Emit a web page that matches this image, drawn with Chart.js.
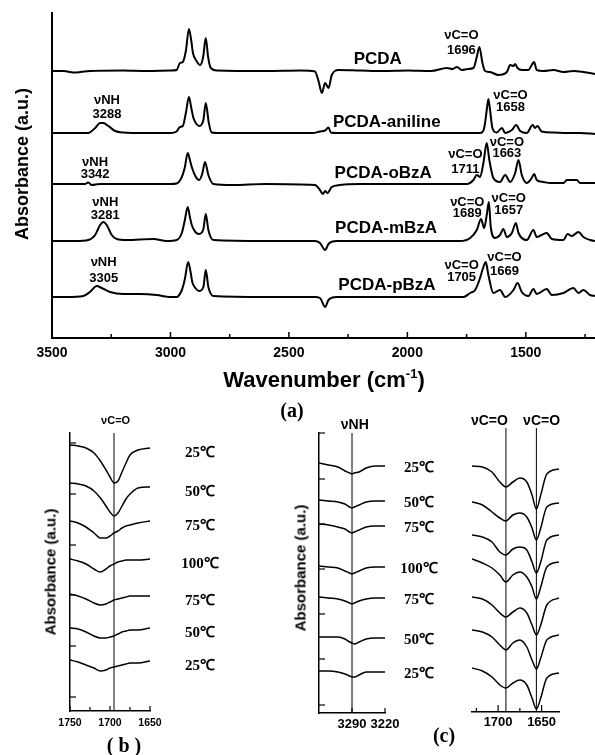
<!DOCTYPE html>
<html><head><meta charset="utf-8">
<script src="https://cdn.jsdelivr.net/npm/chart.js@4/dist/chart.umd.min.js"></script>
<style>
html,body{margin:0;padding:0;background:#fff;}
#fig{position:relative;width:595px;height:755px;overflow:hidden;background:#fff;font-family:'Liberation Sans',Arial,sans-serif;color:#000;}
canvas{position:absolute;}
.t{position:absolute;white-space:nowrap;transform:translate(-50%,-50%);font-weight:bold;line-height:1;}
.r{transform:translate(-50%,-50%) rotate(-90deg);}
.serif{font-family:'Liberation Serif','Times New Roman',serif;}
</style></head><body>
<div id="fig">
<canvas id="cA" width="595" height="395" style="left:0px;top:0px;width:595px;height:395px"></canvas>
<canvas id="cB" width="230" height="320" style="left:0px;top:415px;width:230px;height:320px"></canvas>
<canvas id="cC1" width="145" height="320" style="left:300px;top:415px;width:145px;height:320px"></canvas>
<canvas id="cC2" width="150" height="320" style="left:445px;top:415px;width:150px;height:320px"></canvas>
<div class="t r" style="left:22px;top:164px;font-size:18px">Absorbance (a.u.)</div>
<div class="t" style="left:324px;top:380px;font-size:22px">Wavenumber (cm<span style="font-size:13px;position:relative;top:-9px">-1</span>)</div>
<div class="t serif" style="left:292px;top:410px;font-size:20px">(a)</div>
<div class="t r" style="left:50px;top:572px;font-size:15px">Absorbance (a.u.)</div>
<div class="t serif" style="left:124px;top:745px;font-size:20px">( b )</div>
<div class="t r" style="left:300px;top:568px;font-size:15px">Absorbance (a.u.)</div>
<div class="t serif" style="left:444px;top:735px;font-size:20px">(c)</div>
</div>
<script>
// ---------- Panel (a): FTIR spectra (wavenumber, absorbance above each baseline) ----------
const namesA = ['PCDA', 'PCDA-aniline', 'PCDA-oBzA', 'PCDA-mBzA', 'PCDA-pBzA'];
const offsetsA = [267, 205, 154, 97, 41];
const xTicksA = [3500, 3250, 3000, 2750, 2500, 2250, 2000, 1750, 1500, 1250];
const xLabelsA = [3500, 3000, 2500, 2000, 1500];

const wnPCDA = [3500,3450,3410,3380,3340,3200,3100,3000,2974,2960,2948,2935,2922,2912,2905,2890,2875,2862,2851,2841,2830,2804,2600,2450,2390,2375,2361,2347,2333,2319,2291,2200,2100,2000,1900,1833,1810,1791,1770,1745,1721,1707,1696,1683,1672,1651,1616,1580,1566,1552,1545,1535,1517,1489,1475,1465,1454,1426,1383,1341,1299,1257,1208];
const absPCDA = [0,0,-1.5,-1,0,0.5,0,0.5,1,8,9,20,42,30,18,10,6,14,33,14,3,0.5,0,0.5,-0.5,-10,-22,-12,-17,-4,1,0.5,0,0.5,0,3,2,4,1,2,3,14,24,8,0,-1,-4,-1,6,5,7,3,1,1,6,9,1,0,1,-1,0,-1,-3];

const wnAniline = [3500,3400,3347,3318,3297,3283,3262,3234,3199,3115,3000,2974,2960,2948,2935,2922,2912,2903,2890,2878,2861,2851,2838,2826,2800,2600,2400,2369,2347,2333,2323,2300,2000,1800,1693,1680,1672,1665,1658,1651,1641,1623,1601,1587,1559,1541,1524,1496,1471,1461,1451,1433,1384,1327,1271,1208];
const absAniline = [0,0,0,5,10,10,7,2,0.5,0,0,1.5,6,7,20,36,25,15,9,7,13,30,10,0.5,0,0,0,1.5,2.5,5.5,0.5,0,0,0,0,2,10,23,34,23,5,0.5,5,0,3,8,2,0,8,5,7,1.5,0.5,0,0,-1];

const wnOBzA = [3500,3400,3361,3347,3332,3300,3000,2974,2952,2940,2927,2918,2910,2895,2879,2866,2854,2840,2819,2736,2600,2390,2369,2357,2347,2338,2319,2284,2200,2000,1800,1749,1721,1707,1693,1679,1665,1654,1637,1609,1587,1566,1545,1531,1517,1496,1475,1465,1454,1426,1397,1341,1327,1285,1271,1208];
const absOBzA = [0,0,0,1.5,-1,0,0,0.5,7,16,31,24,17,8,4,10,22,9,0,-1,0,-1,-6,-10,-7,-9,-3,-1,0,0,0,0,4,9,7,21,41,24,6,2,9,2,11,24,9,1,6,10,4,2,1,1,4,4,1,1];

const wnMBzA = [3500,3400,3347,3318,3297,3283,3269,3248,3227,3185,3072,3016,2974,2952,2940,2927,2918,2910,2895,2879,2861,2851,2840,2819,2600,2453,2390,2369,2347,2333,2298,2000,1800,1777,1735,1707,1689,1676,1665,1656,1648,1630,1609,1595,1580,1559,1542,1531,1496,1468,1454,1433,1412,1390,1341,1324,1306,1278,1257,1229,1208];
const absMBzA = [0,0,1,6,16,19,16,6,2,1,2,0,1,8,20,34,24,16,9,7,12,27,11,1,0,0,0,-2,-9,-3,0,0,0,0,3,11,22,13,26,39,14,3,6,12,4,8,18,8,1,11,4,6,8,2,1,7,5,9,4,1,0];

const wnPBzA = [3500,3438,3368,3340,3311,3290,3255,3199,3128,3058,3002,2974,2952,2940,2925,2915,2908,2895,2879,2861,2851,2840,2819,2600,2453,2390,2369,2347,2333,2298,2000,1800,1763,1735,1714,1696,1679,1669,1658,1637,1609,1587,1552,1535,1517,1489,1468,1454,1412,1390,1341,1299,1278,1257,1229,1208];
const absPBzA = [0,0,1,5,11,9,5,3,3,2,0,0,7,17,35,25,15,9,6,10,27,10,1,0,0,0,-1,-10,-3,0,0,0,0,4,7,17,30,35,22,4,7,0,7,14,5,1,8,3,8,2,4,9,4,7,2,1];

// ---------- Panel (b): variable-temperature C=O region ----------
const tempsB = ['25℃','50℃','75℃','100℃','75℃','50℃','25℃'];
const wnB = [1750,1740,1730,1720,1712,1705,1700,1695,1690,1685,1680,1675,1665,1650];
const b25a  = [266,265,263,258,250,241,234,228,230,239,248,256,261,263];
const b50a  = [228,227,225,220,213,205,199,195,198,205,212,217,223,224];
const b75a  = [190,188,184,178,173,173,175,178,180,183,185,186,188,190];
const b100  = [152,150,147,142,139,142,145,147,149,150,151,151,151,152];
const b75b  = [117,115,112,108,106,107,109,111,112,113,114,115,115,115];
const b50b  = [83,82,79,75,73,73,74,75,77,79,80,81,81,83];
const b25b  = [51,49,46,43,40,41,43,44,45,46,47,48,48,50];
const markB = 1695;
const xTicksB = [1750,1725,1700,1675,1650];
const xLabelsB = [1750,1700,1650];
const yTicksB = [14,65,116,166,217,268];

// ---------- Panel (c): NH region and C=O region ----------
const tempsC = ['25℃','50℃','75℃','100℃','75℃','50℃','25℃'];
const wnC1 = [3360,3340,3320,3305,3295,3290,3285,3275,3260,3240,3220];
const n25a = [250,248,246,242,240,239,240,241,245,247,247];
const n50a = [213,212,211,209,206,205,206,208,211,212,212];
const n75a = [189,188,186,184,181,180,181,183,186,187,187];
const n100 = [147,146,145,142,140,139,140,142,145,146,146];
const n75b = [116,115,114,112,110,109,110,112,114,115,115];
const n50b = [76,76,76,74,71,70,69,71,74,75,75];
const n25b = [42,42,41,39,37,36,36,38,41,41,41];
const markC1 = 3290;
const xTicksC1 = [3290,3220];
const yTicksC1 = [8,54,99,144,189,234,280];

const wnC2 = [1730,1718,1707,1698,1691,1683,1675,1667,1661,1656,1651,1644,1630];
const o25a = [246,245,240,230,225,230,234,230,217,203,217,238,243];
const o50a = [210,207,200,194,191,197,199,195,184,172,184,205,209];
const o75a = [177,175,170,160,157,163,165,162,150,139,150,172,177];
const o100 = [153,149,144,137,130,137,140,135,125,113,125,145,150];
const o75b = [115,113,107,99,95,100,104,99,87,77,87,107,114];
const o50b = [82,80,75,67,62,69,72,65,52,43,54,72,77];
const o25b = [44,41,35,27,24,29,32,27,14,3,14,34,39];
const marksC2 = [1691,1656];
const xTicksC2 = [1725,1700,1675,1650];
const xLabelsC2 = [1700,1650];

// ---------- helpers ----------
Chart.defaults.font.family = "'Liberation Sans', Arial, Helvetica, sans-serif";
Chart.defaults.color = '#000';
const SANS = "'Liberation Sans', Arial, sans-serif";
const SERIF = "'Liberation Serif', 'Times New Roman', serif";

function lineDs(xs, ys, off, width) {
  return { data: xs.map((x, i) => ({ x: x, y: off + ys[i] })), borderColor: '#000', borderWidth: width,
    pointRadius: 0, fill: false, cubicInterpolationMode: 'monotone' };
}
function vline(x, lo, hi) {
  return { data: [{ x: x, y: lo }, { x: x, y: hi }], borderColor: '#000', borderWidth: 1, pointRadius: 0, fill: false };
}
function tickPlugin(specs) {
  return { id: 'innerTicks', afterDraw(chart) {
    const ctx = chart.ctx; ctx.save(); ctx.strokeStyle = '#000';
    specs.forEach(sp => {
      const s = chart.scales[sp.axis]; ctx.lineWidth = sp.width;
      s.ticks.forEach(t => {
        const p = s.getPixelForValue(t.value);
        const len = (t.label !== '' && t.label !== undefined) ? sp.major : sp.minor;
        ctx.beginPath();
        if (s.isHorizontal()) { ctx.moveTo(p, s.top); ctx.lineTo(p, s.top - len); }
        else { ctx.moveTo(s.right, p); ctx.lineTo(s.right + len, p); }
        ctx.stroke();
      });
    });
    ctx.restore();
  } };
}
function textPlugin(items) {
  return { id: 'texts', afterDraw(chart) {
    const ctx = chart.ctx, xs = chart.scales.x, ys = chart.scales.y;
    ctx.save(); ctx.fillStyle = '#000'; ctx.textAlign = 'center'; ctx.textBaseline = 'middle';
    items.forEach(it => {
      ctx.font = it.font;
      const x = xs.getPixelForValue(it.x);
      const y = ys.getPixelForValue(it.y) + (it.dy || 0);
      it.lines.forEach((l, i) => ctx.fillText(l, x, y + i * (it.gap || 13)));
    });
    ctx.restore();
  } };
}
function baseOpts(o) {
  const xs = {
    type: 'linear', reverse: true, min: o.xmin, max: o.xmax, bounds: 'data',
    grid: { display: false, drawTicks: false },
    border: { display: true, color: '#000', width: o.bw },
    afterBuildTicks: s => { s.ticks = o.xTicks.map(v => ({ value: v })); },
    afterFit: s => { s.height = o.xh; },
    ticks: { autoSkip: false, maxRotation: 0, minRotation: 0, padding: o.tpad,
      font: { size: o.tsize, weight: 'bold' },
      callback: v => o.xLabels.includes(v) ? String(v) : '' }
  };
  const ys = o.yhidden ? { type: 'linear', display: false, min: o.ymin, max: o.ymax, bounds: 'data' } : {
    type: 'linear', min: o.ymin, max: o.ymax, bounds: 'data',
    grid: { display: false, drawTicks: false },
    border: { display: true, color: '#000', width: o.bw },
    ticks: { display: false },
    afterBuildTicks: s => { s.ticks = o.yTicks.map(v => ({ value: v })); },
    afterFit: s => { s.width = o.yw; }
  };
  return { responsive: false, animation: false, devicePixelRatio: 1, events: [],
    layout: { padding: o.pad },
    plugins: { legend: { display: false }, tooltip: { enabled: false } },
    scales: { x: xs, y: ys } };
}

// ---------- Chart (a) ----------
const seriesA = [[wnPCDA, absPCDA], [wnAniline, absAniline], [wnOBzA, absOBzA], [wnMBzA, absMBzA], [wnPBzA, absPBzA]];
const fA = 'bold 13px ' + SANS, fN = 'bold 17px ' + SANS;
const annA = [
  { lines: [namesA[0]], x: 2125, y: 279, font: fN },
  { lines: [namesA[1]], x: 2087, y: 216, font: fN },
  { lines: [namesA[2]], x: 2102, y: 165, font: fN },
  { lines: [namesA[3]], x: 2090, y: 110, font: fN },
  { lines: [namesA[4]], x: 2086, y: 53, font: fN },
  { lines: ['νC=O', '1696'], x: 1772, y: 303, font: fA, gap: 15 },
  { lines: ['νC=O', '1658'], x: 1565, y: 243, font: fA, gap: 12 },
  { lines: ['νC=O', '1711'], x: 1755, y: 184, font: fA, gap: 15 },
  { lines: ['νC=O', '1663'], x: 1580, y: 196, font: fA, gap: 11 },
  { lines: ['νC=O', '1689'], x: 1747, y: 136, font: fA, gap: 11 },
  { lines: ['νC=O', '1657'], x: 1572, y: 140, font: fA, gap: 12 },
  { lines: ['νC=O', '1705'], x: 1771, y: 73, font: fA, gap: 12 },
  { lines: ['νC=O', '1669'], x: 1590, y: 81, font: fA, gap: 14 },
  { lines: ['νNH', '3288'], x: 3268, y: 238, font: fA, gap: 14 },
  { lines: ['νNH', '3342'], x: 3318, y: 176, font: fA, gap: 12 },
  { lines: ['νNH', '3281'], x: 3275, y: 136, font: fA, gap: 13 },
  { lines: ['νNH', '3305'], x: 3282, y: 76, font: fA, gap: 16 }
];
new Chart(document.getElementById('cA'), {
  type: 'line',
  data: { datasets: seriesA.map((s, i) => lineDs(s[0], s[1], offsetsA[i], 2)) },
  options: baseOpts({ xmin: 1208, xmax: 3500, xTicks: xTicksA, xLabels: xLabelsA, xh: 57, tpad: 7, tsize: 14,
    ymin: 0, ymax: 325, yTicks: offsetsA, yw: 52, bw: 2, pad: { left: 0, top: 13, right: 0, bottom: 0 } }),
  plugins: [tickPlugin([{ axis: 'x', width: 1.5, major: 6, minor: 4 }, { axis: 'y', width: 1.5, major: 7, minor: 7 }]), textPlugin(annA)]
});

// ---------- Chart (b) ----------
const tracesB = [b25a, b50a, b75a, b100, b75b, b50b, b25b];
const annB = tracesB.map((t, i) => ({ lines: [tempsB[i]], x: 1587.5, y: t[t.length - 1], dy: 5, font: 'bold 15px ' + SERIF }));
annB.push({ lines: ['νC=O'], x: 1693, y: 278, dy: -12, font: 'bold 11px ' + SANS });
new Chart(document.getElementById('cB'), {
  type: 'line',
  data: { datasets: tracesB.map(t => lineDs(wnB, t, 0, 1.5)).concat([vline(markB, 0, 278)]) },
  options: baseOpts({ xmin: 1650, xmax: 1750, xTicks: xTicksB, xLabels: xLabelsB, xh: 24, tpad: 6, tsize: 10.5,
    ymin: 0, ymax: 278, yTicks: yTicksB, yw: 70, bw: 1.5, pad: { left: 0, top: 18, right: 80, bottom: 0 } }),
  plugins: [tickPlugin([{ axis: 'x', width: 1.2, major: 5, minor: 4 }, { axis: 'y', width: 1.2, major: 6, minor: 6 }]), textPlugin(annB)]
});

// ---------- Chart (c) left: NH ----------
const tracesC1 = [n25a, n50a, n75a, n100, n75b, n50b, n25b];
const annC1 = tracesC1.map((t, i) => ({ lines: [tempsC[i]], x: 3148, y: t[t.length - 1], dy: 2, font: 'bold 15px ' + SERIF }));
annC1.push({ lines: ['νNH'], x: 3284, y: 280, dy: -8, font: 'bold 14px ' + SANS });
new Chart(document.getElementById('cC1'), {
  type: 'line',
  data: { datasets: tracesC1.map(t => lineDs(wnC1, t, 0, 1.5)).concat([vline(markC1, 0, 280)]) },
  options: baseOpts({ xmin: 3220, xmax: 3360, xTicks: xTicksC1, xLabels: xTicksC1, xh: 22, tpad: 4, tsize: 13,
    ymin: 0, ymax: 280, yTicks: yTicksC1, yw: 19, bw: 1.5, pad: { left: 0, top: 18, right: 60, bottom: 0 } }),
  plugins: [tickPlugin([{ axis: 'x', width: 1.2, major: 5, minor: 4 }, { axis: 'y', width: 1.2, major: 6, minor: 6 }]), textPlugin(annC1)]
});

// ---------- Chart (c) right: C=O ----------
const tracesC2 = [o25a, o50a, o75a, o100, o75b, o50b, o25b];
const annC2 = [
  { lines: ['νC=O'], x: 1710, y: 284, dy: -7, font: 'bold 14px ' + SANS },
  { lines: ['νC=O'], x: 1650, y: 284, dy: -7, font: 'bold 14px ' + SANS }
];
new Chart(document.getElementById('cC2'), {
  type: 'line',
  data: { datasets: tracesC2.map(t => lineDs(wnC2, t, 0, 1.5)).concat(marksC2.map(m => vline(m, 0, 284))) },
  options: baseOpts({ xmin: 1630, xmax: 1730, xTicks: xTicksC2, xLabels: xLabelsC2, xh: 23, tpad: 3, tsize: 13,
    ymin: 0, ymax: 284, yhidden: true, bw: 1.5, pad: { left: 27, top: 13, right: 36, bottom: 0 } }),
  plugins: [tickPlugin([{ axis: 'x', width: 1.2, major: 7, minor: 4 }]), textPlugin(annC2)]
});
</script>
</body></html>
